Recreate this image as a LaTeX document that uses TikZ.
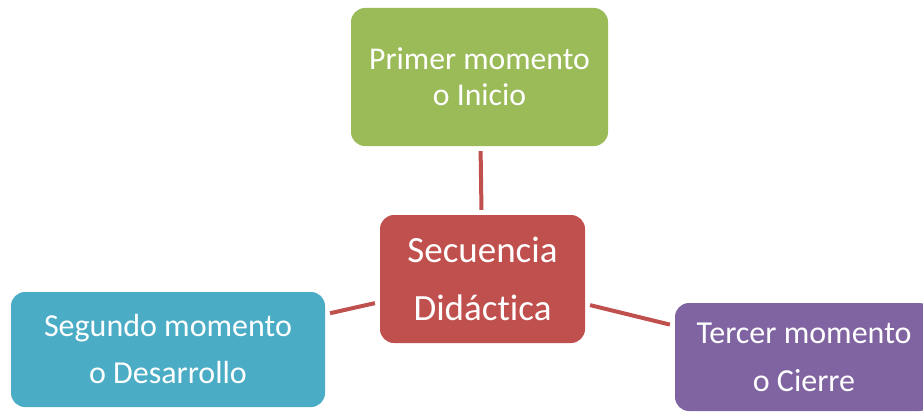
\documentclass[tikz,border=0pt]{standalone}
\usepackage{fontspec}
\setmainfont{Carlito}[Ligatures=NoCommon]
\definecolor{verde}{HTML}{9BBB59}
\definecolor{rojo}{HTML}{C0504D}
\definecolor{azul}{HTML}{4BACC6}
\definecolor{morado}{HTML}{8064A2}
\tikzset{
  caja/.style={rounded corners=14pt, text=white, align=center, inner sep=0pt},
  enlace/.style={draw=rojo, line width=4pt, shorten <=5pt, shorten >=5pt}
}
\begin{document}
\begin{tikzpicture}[x=1pt,y=-1pt]
        \useasboundingbox (0,0) rectangle (923,412);
        \clip (0,0) rectangle (923,412);
        \node [caja, fill=verde, minimum width=257pt, minimum height=138pt,
               font=\fontsize{31.7}{36}\selectfont] (inicio) at (479.5,77) {Primer momento\\o Inicio};
        \node [caja, fill=rojo, minimum width=205pt, minimum height=128pt,
               font=\fontsize{37}{58}\selectfont] (secuencia) at (482.5,279) {Secuencia\\Didáctica};
        \node [caja, fill=azul, minimum width=314pt, minimum height=115pt,
               font=\fontsize{32}{47}\selectfont] (desarrollo) at (168,349.5) {Segundo momento\\o Desarrollo};
        \node [caja, fill=morado, minimum width=258pt, minimum height=108pt,
               font=\fontsize{32}{48}\selectfont] (cierre) at (804,357) {Tercer momento\\o Cierre};
        \draw [enlace] (secuencia) -- (inicio);
        \draw [enlace] (secuencia) -- (desarrollo);
        \draw [enlace] (secuencia) -- (cierre);
    \end{tikzpicture}
\end{document}
